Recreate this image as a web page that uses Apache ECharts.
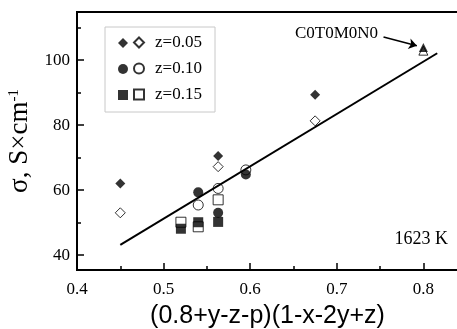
<!DOCTYPE html>
<html>
<head>
<meta charset="utf-8">
<script src="https://cdn.jsdelivr.net/npm/echarts@6/dist/echarts.min.js"></script>
<style>
  html, body { margin: 0; padding: 0; background: #fff; }
  #chart { width: 457px; height: 329px; }
</style>
</head>
<body>
<div id="chart"></div>
<script>
// values: [x, sigma]
const z005Filled = [[0.45, 62], [0.563, 70.5], [0.675, 89.3]];
const z005Open = [[0.45, 53], [0.563, 67.2], [0.675, 81.3]];
const z010Filled = [[0.54, 59.3], [0.563, 53], [0.595, 64.8]];
const z010Open = [[0.54, 55.4], [0.563, 60.5], [0.595, 66.2]];
const z015Filled = [[0.52, 48.1], [0.54, 50.1], [0.563, 50.2]];
const z015Open = [[0.52, 50.1], [0.54, 48.7], [0.563, 57]];
const refFilled = [[0.8, 103.9]];
const refOpen = [[0.8, 102.9]];
const fitLine = [[0.45, 43.1], [0.816, 102.1]];
const legendNames = ["z=0.05", "z=0.10", "z=0.15"];

const serif = "Liberation Serif";
const black = "#000";

function filled(name, symbol, size, data) {
  return {
    name: name, type: "scatter", symbol: symbol, symbolSize: size, data: data, z: 3,
    itemStyle: { color: black }
  };
}
function open(name, symbol, size, data) {
  return {
    name: name, type: "scatter", symbol: symbol, symbolSize: size, data: data, z: 2,
    itemStyle: { color: "#fff", borderColor: black, borderWidth: 1 }
  };
}

const refSeries = filled("ref", "triangle", 9, refFilled);
refSeries.markPoint = {
  symbol: "circle", symbolSize: 0,
  data: [{ coord: [0.75, 108.3] }],
  label: { show: true, position: "left", distance: 2, formatter: "C0T0M0N0",
    color: black, fontFamily: serif, fontSize: 17 }
};
refSeries.markLine = {
  silent: true, symbol: ["none", "arrow"], symbolSize: 8,
  lineStyle: { color: black, width: 1.5, type: "solid" },
  label: { show: false },
  data: [[{ coord: [0.754, 107.1] }, { coord: [0.7925, 104.4] }]]
};

const option = {
  animation: false,
  grid: { left: 77, top: 12, width: 381, height: 258, show: true,
    borderColor: black, borderWidth: 2, outerBoundsMode: "none", containLabel: false },
  xAxis: [
    {
      type: "value", position: "bottom", min: 0.4, max: 0.84, interval: 0.1,
      axisLine: { lineStyle: { color: black, width: 2 } },
      axisTick: { inside: true, length: 7, lineStyle: { color: black, width: 1.5 } },
      axisLabel: { color: black, fontFamily: serif, fontSize: 17, margin: 11, showMaxLabel: false },
      splitLine: { show: false },
      name: "(0.8+y-z-p)(1-x-2y+z)", nameLocation: "middle", nameGap: 34,
      nameTextStyle: { color: black, fontFamily: "Liberation Sans", fontSize: 25 }
    },
    {
      type: "value", position: "bottom", min: 0.4, max: 0.84, interval: 0.05,
      axisLine: { show: false },
      axisTick: { inside: true, length: 4, lineStyle: { color: black, width: 1.5 } },
      axisLabel: { show: false }, splitLine: { show: false }
    }
  ],
  yAxis: [
    {
      type: "value", position: "left", min: 35.4, max: 114.8, minInterval: 20, maxInterval: 20,
      axisLine: { show: true, lineStyle: { color: black, width: 2 } },
      axisTick: { show: true, inside: true, length: 7, lineStyle: { color: black, width: 1.5 } },
      axisLabel: { color: black, fontFamily: serif, fontSize: 17, margin: 7,
        showMinLabel: false, showMaxLabel: false },
      splitLine: { show: false },
      name: "{a|σ, S×cm}{b|-1}", nameLocation: "middle", nameGap: 42, nameRotate: 90,
      nameTextStyle: { color: black, rich: {
        a: { fontFamily: serif, fontSize: 27, color: black },
        b: { fontFamily: serif, fontSize: 15, color: black, padding: [0, 0, 12, 0] }
      } }
    },
    {
      type: "value", position: "left", min: 35.4, max: 114.8, minInterval: 10, maxInterval: 10,
      axisLine: { show: false },
      axisTick: { show: true, inside: true, length: 4, lineStyle: { color: black, width: 1.5 } },
      axisLabel: { show: false }, splitLine: { show: false }
    }
  ],
  legend: [
    {
      orient: "vertical", left: 118, top: 38, padding: 0, itemWidth: 10, itemHeight: 10,
      itemGap: 16, selectedMode: false, formatter: function () { return ""; },
      data: ["f" + legendNames[0], "f" + legendNames[1], "f" + legendNames[2]]
    },
    {
      orient: "vertical", left: 133, top: 34, padding: 0, itemWidth: 10, itemHeight: 10,
      itemGap: 9, selectedMode: false,
      textStyle: { color: black, fontFamily: serif, fontSize: 17, padding: [0, 0, 0, 6] },
      data: legendNames
    }
  ],
  graphic: [
    { type: "rect", shape: { x: 105, y: 27, width: 110, height: 85 },
      style: { fill: "none", stroke: "#c8c8c8", lineWidth: 1 } },
    { type: "text", x: 448, y: 239,
      style: { text: "1623 K", fill: black, fontFamily: serif, fontSize: 18,
        align: "right", verticalAlign: "middle" } }
  ],
  series: [
    open(legendNames[0], "diamond", 10, z005Open),
    open(legendNames[1], "circle", 10, z010Open),
    open(legendNames[2], "rect", 10, z015Open),
    open("refOpen", "triangle", 9, refOpen),
    filled("f" + legendNames[0], "diamond", 10, z005Filled),
    filled("f" + legendNames[1], "circle", 10, z010Filled),
    filled("f" + legendNames[2], "rect", 10, z015Filled),
    refSeries,
    {
      name: "fit", type: "line", data: fitLine, symbol: "none", z: 4,
      lineStyle: { color: black, width: 2 }
    }
  ]
};

const chart = echarts.init(document.getElementById("chart"));
chart.setOption(option);
</script>
</body>
</html>
